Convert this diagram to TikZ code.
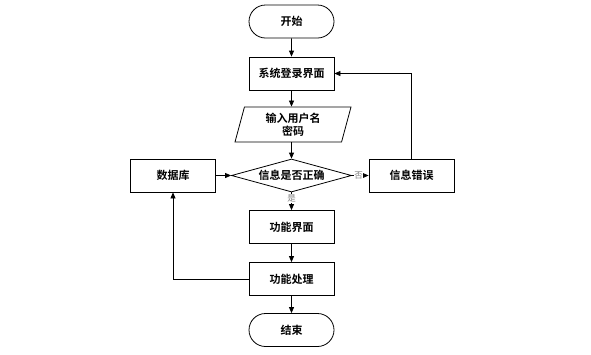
\documentclass[tikz,border=0pt]{standalone}
\usepackage{fontspec}
\newfontfamily\cjk{Noto Sans CJK SC}[BoldFont={Noto Sans CJK SC Bold}]
\usetikzlibrary{shapes.geometric,shapes.misc,arrows.meta}
\begin{document}
\begin{tikzpicture}[x=1pt,y=-1pt,
  font=\cjk\bfseries\fontsize{11}{13}\selectfont,
  every node/.style={draw, line width=0.8pt, inner sep=0pt, align=center},
  proc/.style={rectangle, minimum width=85pt, minimum height=33pt},
  term/.style={rounded rectangle, minimum width=85pt, minimum height=33pt},
  io/.style={trapezium, trapezium left angle=68, trapezium right angle=112, minimum width=116pt, minimum height=35pt, trapezium stretches body},
  dec/.style={diamond, aspect=3.6, minimum width=120pt, minimum height=33pt},
  lab/.style={draw=none, font=\cjk\fontsize{8.5}{9}\selectfont, text=gray, fill=white, inner sep=0.5pt},
  arr/.style={-{Triangle[length=6pt,width=5pt]}, line width=0.8pt}]
\useasboundingbox (0,0) rectangle (591,354);
\node[term] (start) at (291.5,21.5) {开始};
\node[proc] (login) at (291.5,73.5) {系统登录界面};
\node[io] (input) at (293,124.5) {输入用户名\\密码};
\node[dec] (check) at (291.5,175.5) {信息是否正确};
\node[proc] (db) at (173,175.5) {数据库};
\node[proc] (err) at (411.5,175.5) {信息错误};
\node[proc] (func) at (291.5,227) {功能界面};
\node[proc] (proc2) at (291.5,279) {功能处理};
\node[term] (end) at (291.5,330) {结束};
\draw[arr] (start) -- (login);
\draw[arr] (login) -- (input.north -| login);
\draw[arr] (input.south -| login) -- (check);
\draw[arr] (db) -- (check);
\draw[arr] (check.east) -- node[lab, pos=0.4]{否} (err.west);
\draw[arr] (check.south) -- node[lab, pos=0.35]{是} (func.north);
\draw[arr] (err.north) |- (login.east);
\draw[arr] (func) -- (proc2);
\draw[arr] (proc2.west) -| (db.south);
\draw[arr] (proc2) -- (end);
\end{tikzpicture}
\end{document}
